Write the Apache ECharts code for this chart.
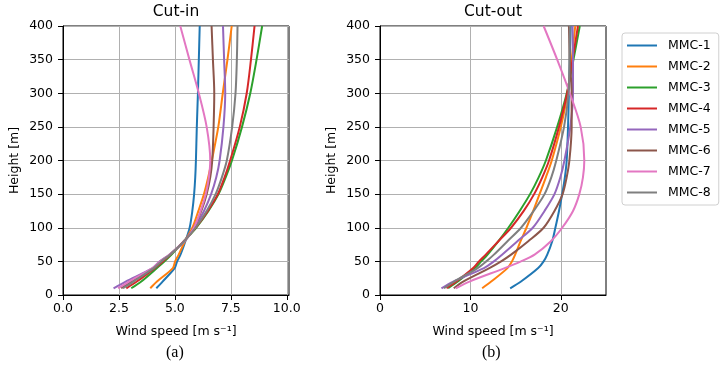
<!DOCTYPE html>
<html>
<head>
<meta charset="utf-8">
<script src="https://cdn.jsdelivr.net/npm/echarts@6/dist/echarts.min.js"></script>
<style>
  html, body { margin: 0; padding: 0; background: #fff; }
  #main { width: 728px; height: 370px; }
</style>
</head>
<body>
<div id="main"></div>
<script>
// 高度 (m)
var heights = [10, 20, 40, 50, 60, 80, 100, 125, 150, 175, 200, 250, 300, 350, 400];

var names = ['MMC-1', 'MMC-2', 'MMC-3', 'MMC-4', 'MMC-5', 'MMC-6', 'MMC-7', 'MMC-8'];
var colors = ['#1f77b4', '#ff7f0e', '#2ca02c', '#d62728', '#9467bd', '#8c564b', '#e377c2', '#7f7f7f'];

// Cut-in 风速
var cutIn1 = [4.17, 4.45, 4.99, 5.10, 5.25, 5.47, 5.66, 5.78, 5.86, 5.91, 5.94, 5.98, 6.03, 6.07, 6.11];
var cutIn2 = [3.90, 4.20, 4.91, 5.01, 5.17, 5.45, 5.78, 6.05, 6.30, 6.49, 6.65, 6.94, 7.14, 7.35, 7.54];
var cutIn3 = [3.05, 3.50, 4.20, 4.54, 4.85, 5.40, 5.95, 6.50, 6.95, 7.27, 7.55, 8.00, 8.37, 8.65, 8.90];
var cutIn4 = [2.83, 3.30, 4.10, 4.46, 4.80, 5.40, 5.93, 6.47, 6.92, 7.22, 7.47, 7.90, 8.21, 8.40, 8.56];
var cutIn5 = [2.26, 2.80, 4.00, 4.32, 4.75, 5.42, 5.88, 6.30, 6.62, 6.85, 7.00, 7.17, 7.25, 7.20, 7.15];
var cutIn6 = [2.60, 3.05, 4.10, 4.40, 4.77, 5.43, 5.85, 6.18, 6.42, 6.58, 6.67, 6.73, 6.76, 6.70, 6.64];
var cutIn7 = [2.46, 2.95, 4.00, 4.35, 4.75, 5.43, 5.85, 6.15, 6.38, 6.52, 6.58, 6.42, 6.07, 5.65, 5.24];
var cutIn8 = [2.68, 3.15, 4.05, 4.39, 4.78, 5.42, 5.92, 6.42, 6.82, 7.10, 7.32, 7.56, 7.71, 7.77, 7.80];

// Cut-out 风速
var cutOut1 = [14.4, 15.6, 17.5, 18.1, 18.5, 19.05, 19.4, 19.8, 20.15, 20.45, 20.65, 20.8, 20.9, 21.0, 21.1];
var cutOut2 = [11.3, 12.3, 14.1, 14.6, 14.95, 15.55, 16.2, 16.95, 17.65, 18.35, 19.0, 20.0, 20.75, 21.2, 21.6];
var cutOut3 = [7.54, 8.6, 10.5, 11.2, 11.9, 13.1, 14.2, 15.45, 16.6, 17.55, 18.35, 19.6, 20.66, 21.4, 22.1];
var cutOut4 = [7.36, 8.45, 10.3, 10.95, 11.7, 13.1, 14.5, 15.9, 17.05, 17.95, 18.7, 19.8, 20.7, 21.3, 21.9];
var cutOut5 = [6.8, 8.1, 11.5, 12.6, 13.5, 15.2, 16.9, 18.2, 19.3, 19.95, 20.4, 21.05, 21.35, 21.35, 21.3];
var cutOut6 = [8.16, 9.2, 12.1, 13.4, 14.5, 16.4, 18.1, 19.3, 20.2, 20.65, 20.95, 21.2, 21.2, 21.0, 20.9];
var cutOut7 = [8.38, 9.9, 13.8, 15.6, 17.1, 18.9, 20.15, 21.35, 22.05, 22.45, 22.6, 22.2, 21.0, 19.6, 18.1];
var cutOut8 = [7.07, 8.2, 10.8, 11.76, 12.6, 14.1, 15.6, 17.0, 18.2, 18.95, 19.5, 20.36, 20.85, 20.95, 21.0];

var cutIn = [cutIn1, cutIn2, cutIn3, cutIn4, cutIn5, cutIn6, cutIn7, cutIn8];
var cutOut = [cutOut1, cutOut2, cutOut3, cutOut4, cutOut5, cutOut6, cutOut7, cutOut8];

var chart = echarts.init(document.getElementById('main'));
var font = 'DejaVu Sans';

function pairs(vals) {
    return vals.map(function (v, i) { return [v, heights[i]]; });
}

function xAxisCfg(idx, max, ticks, fmt) {
    return {
        type: 'value', gridIndex: idx, min: 0, max: max,
        name: 'Wind speed [m s⁻¹]', nameLocation: 'middle', nameGap: 30,
        nameTextStyle: { fontFamily: font, fontSize: 12.5, color: '#000' },
        axisLine: { lineStyle: { color: '#000', width: 1 } },
        axisTick: { show: true, length: 5, customValues: ticks, lineStyle: { color: '#000' } },
        axisLabel: { customValues: ticks, margin: 7, fontFamily: font, fontSize: 12.5, color: '#000', formatter: fmt },
        splitLine: { show: true, lineStyle: { color: '#b0b0b0', width: 1 } }
    };
}

function yAxisCfg(idx) {
    return {
        type: 'value', gridIndex: idx, min: 0, max: 400, interval: 50,
        name: 'Height [m]', nameLocation: 'middle', nameGap: 42,
        nameTextStyle: { fontFamily: font, fontSize: 12.5, color: '#000' },
        axisLine: { show: true, lineStyle: { color: '#000', width: 1 } },
        axisTick: { show: true, length: 5, lineStyle: { color: '#000' } },
        axisLabel: { margin: 10, fontFamily: font, fontSize: 12.5, color: '#000' },
        splitLine: { show: true, lineStyle: { color: '#b0b0b0', width: 1 } }
    };
}

// 轻微平滑，避免折线的尖角
var series = [];
names.forEach(function (n, i) {
    series.push({
        name: n, type: 'line', xAxisIndex: 0, yAxisIndex: 0,
        data: pairs(cutIn[i]), showSymbol: false, symbol: 'none',
        smooth: 0.3,
        lineStyle: { width: 2, color: colors[i] }, itemStyle: { color: colors[i] }, z: 3
    });
    series.push({
        name: n, type: 'line', xAxisIndex: 1, yAxisIndex: 1,
        data: pairs(cutOut[i]), showSymbol: false, symbol: 'none',
        smooth: 0.3,
        lineStyle: { width: 2, color: colors[i] }, itemStyle: { color: colors[i] }, z: 3
    });
});

var option = {
    animation: false,
    backgroundColor: '#fff',
    title: [
        { text: 'Cut-in', left: 176, top: 4, textAlign: 'center', padding: 0,
          textStyle: { fontFamily: font, fontSize: 15.5, fontWeight: 'normal', color: '#000' } },
        { text: 'Cut-out', left: 493, top: 4, textAlign: 'center', padding: 0,
          textStyle: { fontFamily: font, fontSize: 15.5, fontWeight: 'normal', color: '#000' } }
    ],
    grid: [
        { left: 63, top: 26, width: 226, height: 269, show: true, borderColor: '#000', borderWidth: 1 },
        { left: 380, top: 26, width: 226, height: 269, show: true, borderColor: '#000', borderWidth: 1 }
    ],
    xAxis: [
        xAxisCfg(0, 10.1, [0, 2.5, 5, 7.5, 10], function (v) { return v.toFixed(1); }),
        xAxisCfg(1, 25, [0, 10, 20], function (v) { return String(v); })
    ],
    yAxis: [yAxisCfg(0), yAxisCfg(1)],
    legend: {
        orient: 'vertical', left: 622, top: 33,
        data: names, icon: 'rect', itemWidth: 30, itemHeight: 2, itemGap: 6,
        padding: [5, 8, 5, 5],
        borderColor: '#d0d0d0', borderWidth: 1, borderRadius: 3,
        textStyle: { fontFamily: font, fontSize: 12.5, color: '#000', lineHeight: 15, padding: [0, 0, 0, 6] }
    },
    graphic: [
        { type: 'text', left: 166, top: 345, style: { text: '(a)', font: '16px "Liberation Serif"', fill: '#000' } },
        { type: 'text', left: 482, top: 345, style: { text: '(b)', font: '16px "Liberation Serif"', fill: '#000' } }
    ],
    series: series
};

chart.setOption(option);
</script>
</body>
</html>
